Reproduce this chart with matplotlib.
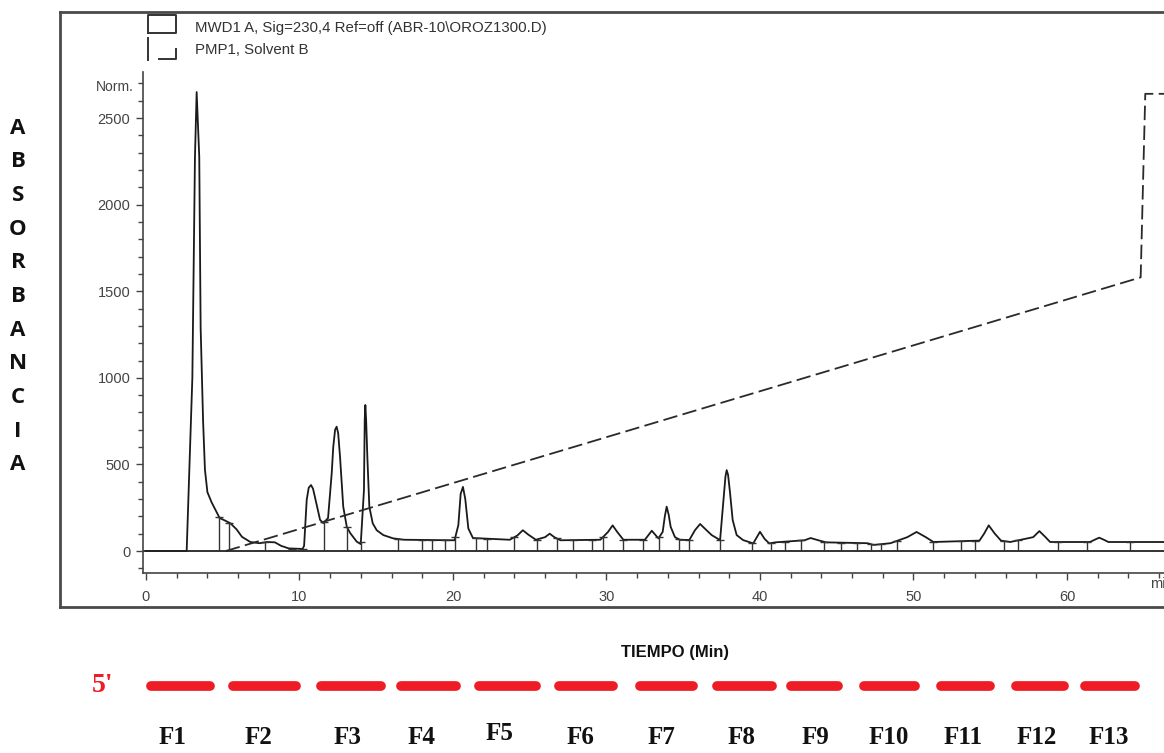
import numpy as np
import matplotlib
matplotlib.use("Agg")
import matplotlib.pyplot as plt
from matplotlib.lines import Line2D
from matplotlib.transforms import blended_transform_factory
from matplotlib.ticker import MultipleLocator

# chromatogram trace (MWD1 A), time in min, absorbance
trace_t = [0, 2.65, 2.87, 3.02, 3.19, 3.30, 3.47, 3.56, 3.63, 3.72, 3.84, 4.0, 4.28, 4.6, 4.8,
           5.1, 5.5, 5.9, 6.25, 6.8, 7.4, 7.9, 8.4, 8.8, 9.3, 10.2, 10.3, 10.47, 10.6, 10.75,
           10.88, 11.0, 11.34, 11.55, 11.86, 12.1, 12.2, 12.32, 12.42, 12.52, 12.64, 12.85,
           13.08, 13.3, 13.73, 13.99, 14.2, 14.25, 14.29, 14.34, 14.42, 14.55, 14.77, 15.03,
           15.46, 16.1, 16.8, 20.1, 20.35, 20.5, 20.65, 20.8, 21.0, 21.3, 23.7, 24.2, 24.55,
           24.9, 25.4, 26.0, 26.3, 26.6, 27.0, 29.6, 30.1, 30.4, 30.7, 31.1, 32.5, 32.95, 33.38,
           33.66, 33.8, 33.92, 34.05, 34.18, 34.46, 34.8, 35.4, 35.77, 36.1, 36.4, 36.85, 37.4,
           37.6, 37.75, 37.83, 37.92, 38.05, 38.22, 38.48, 38.9, 39.56, 40.0, 40.3, 40.6, 41.0,
           42.9, 43.3, 43.8, 44.3, 47.0, 47.4, 48.5, 49.6, 50.2, 50.8, 51.3, 54.3, 54.6, 54.9,
           55.3, 55.7, 56.3, 57.8, 58.2, 58.6, 58.9, 61.5, 61.8, 62.1, 62.4, 62.7, 66.4]
trace_y = [0, 0, 600, 1000, 2275, 2650, 2275, 1290, 1045, 750, 470, 340, 280, 225, 190,
           178, 160, 125, 82, 52, 45, 52, 50, 30, 15, 12, 30, 295, 365, 381,
           360, 314, 180, 161, 190, 450, 602, 700, 718, 680, 545, 256,
           140, 104, 54, 40, 352, 760, 843, 760, 545, 256, 160, 120,
           92, 73, 65, 62, 150, 330, 370, 300, 130, 75, 65, 90, 120,
           95, 65, 80, 100, 80, 62, 65, 110, 148, 110, 65, 65, 117, 73,
           110, 200, 256, 210, 140, 80, 64, 64, 121, 156, 130, 92, 63,
           275, 430, 467, 440, 335, 179, 92, 63, 44, 111, 70, 44, 50,
           62, 75, 62, 50, 45, 35, 45, 80, 110, 80, 52, 60, 100, 148,
           100, 60, 52, 80, 115, 80, 52, 52, 65, 77, 65, 52, 52]

# integration drop lines (min)
drops = [4.76, 5.4, 7.75, 9.5, 10.2, 11.6, 13.1, 14.0, 16.45, 18.0, 18.6, 19.5, 20.15, 21.5,
         22.2, 24.0, 25.45, 26.75, 27.85, 29.05, 29.75, 31.1, 32.35, 33.45, 34.7, 35.4, 37.4,
         39.5, 40.7, 41.6, 42.7, 44.2, 45.3, 46.3, 47.2, 47.9, 48.9, 51.3, 53.1, 54.0, 55.9,
         56.8, 59.4, 61.3, 64.1]

# PMP1 solvent B gradient
solv_t = [5.2, 64.8, 65.1, 66.5]
solv_y = [0, 1580, 2640, 2640]

# collected fractions (min)
frac_start = [0.3, 5.7, 11.4, 16.6, 21.7, 26.9, 32.2, 37.2, 42.05, 46.8, 51.8, 56.65, 61.15]
frac_end = [4.2, 9.8, 15.3, 20.2, 25.4, 30.4, 35.65, 40.8, 45.1, 50.1, 55.0, 59.8, 64.4]
frac_labels = ["F1", "F2", "F3", "F4", "F5", "F6", "F7", "F8", "F9", "F10", "F11", "F12", "F13"]
label_t = [1.7, 7.3, 13.1, 17.97, 23.0, 28.3, 33.6, 38.77, 43.6, 48.4, 53.2, 58.05, 62.7]

W, H = 1164, 753
fig = plt.figure(figsize=(W / 100, H / 100), dpi=100)
plt.rcParams['font.family'] = ['Liberation Sans']

def fx(px):
    return px / W

def fy(py):
    return 1 - py / H

ax = fig.add_axes([fx(143), fy(573), (W - 143) / W, (573 - 72) / H])
ax.set_xlim(-0.195, 66.32)
ax.set_ylim(-127, 2766)

gray = "#444444"
ax.plot(trace_t, trace_y, color="#1a1a1a", lw=1.3)
ax.plot(solv_t, solv_y, color="#2a2a2a", lw=1.3, dashes=(8, 3))
ax.axhline(0, color="#222222", lw=1.3)
tops = np.interp(drops, trace_t, trace_y)
ax.vlines(drops, 0, tops, color="#333333", lw=1.0)
ax.plot(drops, tops, ls="none", marker="_", ms=6, mew=1.0, color="#333333")

for s in ["top", "right"]:
    ax.spines[s].set_visible(False)
ax.spines["left"].set_color(gray)
ax.spines["bottom"].set_color(gray)
ax.spines["left"].set_linewidth(1.2)
ax.spines["bottom"].set_linewidth(1.2)

ax.yaxis.set_minor_locator(MultipleLocator(100))
ax.set_yticks([0, 500, 1000, 1500, 2000, 2500])
ax.xaxis.set_minor_locator(MultipleLocator(2))
ax.set_xticks([0, 10, 20, 30, 40, 50, 60])
ax.tick_params(axis="both", which="major", length=5, width=1, color=gray,
               labelcolor=gray, labelsize=10.5)
ax.tick_params(axis="y", which="major", pad=4)
ax.tick_params(axis="x", which="major", pad=7)
ax.tick_params(axis="both", which="minor", length=3.5, width=1, color=gray)
ax.text(65.4, -190, "min", color=gray, fontsize=10.5, va="center", ha="left",
        transform=ax.transData, clip_on=False)

fig.text(fx(115), fy(87), "Norm.", color=gray, fontsize=10, ha="center", va="center")

# outer frame
frame_kw = dict(color="#4a4a4a", lw=2, transform=fig.transFigure)
fig.add_artist(Line2D([fx(60), 1], [fy(12), fy(12)], **frame_kw))
fig.add_artist(Line2D([fx(60), 1], [fy(607), fy(607)], **frame_kw))
fig.add_artist(Line2D([fx(60), fx(60)], [fy(12), fy(607)], **frame_kw))

# legend
icon_kw = dict(color="#333333", lw=1.4, transform=fig.transFigure)
fig.add_artist(Line2D([fx(148), fx(148), fx(176), fx(176), fx(148)],
                      [fy(33), fy(15), fy(15), fy(33), fy(33)], **icon_kw))
fig.add_artist(Line2D([fx(148), fx(148)], [fy(38), fy(60)], **icon_kw))
fig.add_artist(Line2D([fx(159), fx(176), fx(176)], [fy(59), fy(59), fy(49)], **icon_kw))
fig.text(fx(195), fy(28), r"MWD1 A, Sig=230,4 Ref=off (ABR-10\OROZ1300.D)", color="#333333",
         fontsize=10.8, va="center", ha="left")
fig.text(fx(195), fy(50), "PMP1, Solvent B", color="#333333", fontsize=10.8,
         va="center", ha="left")

# vertical axis title
for i, ch in enumerate("ABSORBANCIA"):
    fig.text(fx(18), fy(128 + i * 33.7), ch, fontsize=16, fontweight="bold",
             ha="center", va="center", color="#111111", family="Open Sans")

fig.text(fx(675), fy(652), "TIEMPO (Min)", fontsize=12, fontweight="bold",
         ha="center", va="center", color="#111111")

# fractions
btr = blended_transform_factory(ax.transData, fig.transFigure)
for s, e in zip(frac_start, frac_end):
    ax.plot([s, e], [fy(686), fy(686)], color="#ee1c25", lw=7, solid_capstyle="round",
            transform=btr, clip_on=False)
fig.text(fx(103), fy(686), "5'", color="#ee1c25", fontsize=20, fontweight="bold",
         family="Liberation Serif", ha="center", va="center")
for t, lab in zip(label_t, frac_labels):
    yy = fy(733) if lab == "F5" else fy(737)
    ax.text(t, yy, lab, transform=btr, fontsize=18, fontweight="bold",
            family="Liberation Serif", ha="center", va="center", color="#111111")

fig.savefig("out.png", dpi=100)
